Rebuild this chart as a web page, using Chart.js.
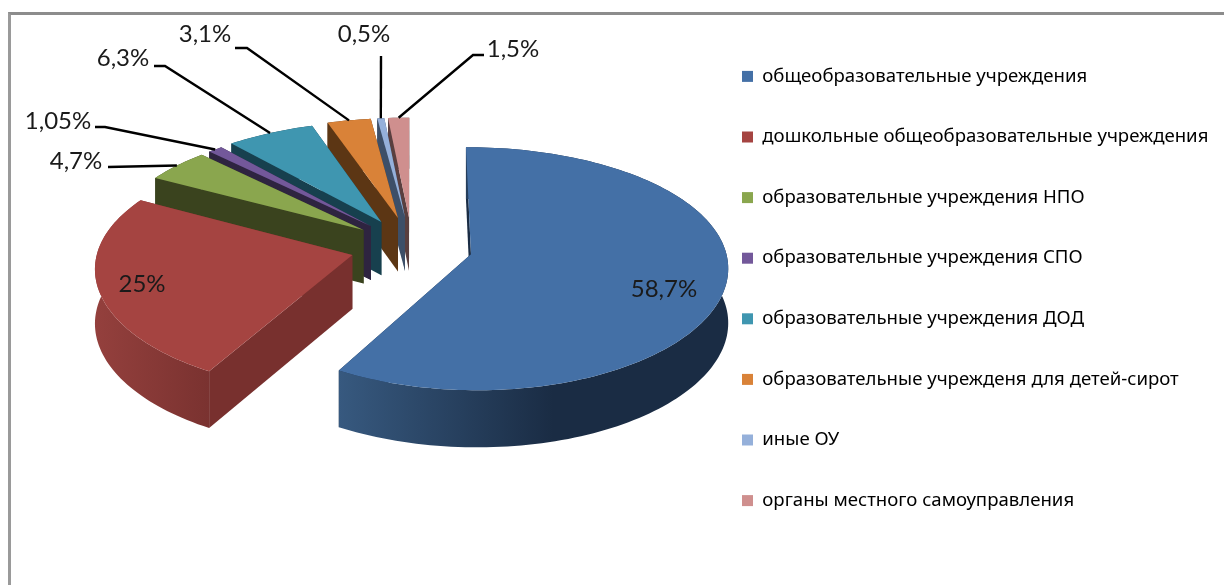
<!DOCTYPE html>
<html>
<head>
<meta charset="utf-8">
<script src="https://cdn.jsdelivr.net/npm/chart.js@4"></script>
<style>
html, body { margin: 0; background: #fff; overflow: hidden; }
#frame { position: absolute; left: 8px; top: 12px; right: 0; bottom: 0; border-top: 3px solid #8c8c8c; border-left: 3px solid #9a9a9a; }
#chart { position: absolute; left: 0; top: 0; }
</style>
</head>
<body>
<div id="frame"></div>
<canvas id="chart" width="1224" height="585"></canvas>
<script>
const categories = [
    "общеобразовательные учреждения",
    "дошкольные общеобразовательные учреждения",
    "образовательные учреждения НПО",
    "образовательные учреждения СПО",
    "образовательные учреждения ДОД",
    "образовательные учрежденя для детей-сирот",
    "иные ОУ",
    "органы местного самоуправления"
];
const shares = [58.7, 25, 4.7, 1.05, 6.3, 3.1, 0.5, 1.5];
const shareLabels = ["58,7%", "25%", "4,7%", "1,05%", "6,3%", "3,1%", "0,5%", "1,5%"];

const topColors = ['#4470a6', '#a54441', '#8aa64e', '#73589a', '#3f96b0', '#d98238', '#95b0da', '#cf8f8e'];
const faceColors = ['#1a2c44', '#78302e', '#3a431e', '#2e2440', '#17404e', '#5c3614', '#3d4f68', '#5a3f3f'];
const wallLeft = ['#37597f', '#94403d', '#3a431e', '#2e2440', '#17404e', '#5c3614', '#3d4f68', '#5a3f3f'];
const wallRight = ['#1a2c44', '#7a3230', '#3a431e', '#2e2440', '#17404e', '#5c3614', '#3d4f68', '#5a3f3f'];
const sliceOffsets = [61, 62, 62, 62, 64, 66, 66, 66];

// label text centre, then the bend of the leader line (null = no leader)
const labelX = [664, 142, 76, 58, 123, 205, 364, 513];
const labelY = [289, 284, 161, 121, 58, 34, 34, 49];
const bendX = [null, null, 108, 95, 154, 235, 381, 484];
const bendY = [null, null, 167, 127, 66, 48, 56, 55];
const bend2X = [null, null, 108, 105, 165, 247, 381, 473];

// projection of the flat pie to the tilted view
const originX = 412, originY = 247, radiusPx = 254, flat = 0.465, persp = 0.001, depth = 54;

function project(el, a, r, z) {
    const k = radiusPx / el.outerRadius;
    const mid = (el.startAngle + el.endAngle) / 2;
    const off = el.options.offset;
    const dx = (Math.cos(mid) * off + Math.cos(a) * r) * k;
    const dy = (Math.sin(mid) * off + Math.sin(a) * r) * k * flat;
    const s = 1 / (1 - persp * dy);
    return [originX + dx * (1 + (s - 1) * 0.8), originY + dy * s + z * (1 + (s - 1) * 0.4)];
}

function polygon(ctx, pts, fill) {
    ctx.beginPath();
    pts.forEach((p, i) => i ? ctx.lineTo(p[0], p[1]) : ctx.moveTo(p[0], p[1]));
    ctx.closePath();
    ctx.fillStyle = fill;
    ctx.fill();
}

function rim(el, z) {
    const pts = [];
    const n = Math.max(4, Math.ceil((el.endAngle - el.startAngle) * 40));
    for (let i = 0; i <= n; i++) {
        pts.push(project(el, el.startAngle + (el.endAngle - el.startAngle) * i / n, el.outerRadius, z));
    }
    return pts;
}

const pie3d = {
    id: 'pie3d',
    afterUpdate(chart) {
        // legend column sits at a fixed spot on the right
        chart.legend.left = 742 - chart.legend.options.labels.padding;
    },
    beforeDatasetDraw(chart) {
        const ctx = chart.ctx;
        const arcs = chart.getDatasetMeta(0).data;
        for (let i = arcs.length - 1; i >= 0; i--) {
            const el = arcs[i];
            const rTop = rim(el, 0), rBot = rim(el, depth);
            const aTop = project(el, 0, 0, 0), aBot = project(el, 0, 0, depth);
            const xs = rTop.map(p => p[0]);
            const g = ctx.createLinearGradient(Math.min(...xs), 0, Math.max(...xs), 0);
            g.addColorStop(0, wallLeft[i]);
            g.addColorStop(i === 0 ? 0.55 : 1, wallRight[i]);
            g.addColorStop(1, wallRight[i]);
            // end face, outer wall, start face, top
            polygon(ctx, [aTop, rTop[rTop.length - 1], rBot[rBot.length - 1], aBot], faceColors[i]);
            if (i === 0) polygon(ctx, [aTop, rTop[0], rBot[0], aBot], faceColors[i]);
            polygon(ctx, rTop.concat(rBot.slice().reverse()), g);
            if (i !== 0) polygon(ctx, [aTop, rTop[0], rBot[0], aBot], faceColors[i]);
            polygon(ctx, [aTop].concat(rTop), topColors[i]);
        }
        return false;
    },
    afterDatasetsDraw(chart) {
        const ctx = chart.ctx;
        const arcs = chart.getDatasetMeta(0).data;
        ctx.save();
        ctx.strokeStyle = '#000';
        ctx.lineWidth = 2.4;
        arcs.forEach((el, i) => {
            if (bendX[i] === null) return;
            const mid = (el.startAngle + el.endAngle) / 2;
            const end = project(el, mid, el.outerRadius, 0);
            ctx.beginPath();
            ctx.moveTo(bendX[i], bendY[i]);
            ctx.lineTo(bend2X[i], bendY[i]);
            ctx.lineTo(end[0], end[1]);
            ctx.stroke();
        });
        ctx.font = '24px Lato';
        ctx.fillStyle = '#1a1a1a';
        ctx.textAlign = 'center';
        ctx.textBaseline = 'middle';
        shareLabels.forEach((t, i) => ctx.fillText(t, labelX[i], labelY[i]));
        ctx.restore();
    }
};

new Chart(document.getElementById('chart'), {
    type: 'pie',
    plugins: [pie3d],
    data: {
        labels: categories,
        datasets: [{
            data: shares,
            backgroundColor: topColors,
            borderWidth: 0,
            offset: sliceOffsets
        }]
    },
    options: {
        responsive: false,
        animation: false,
        layout: { padding: { bottom: 8 } },
        plugins: {
            tooltip: { enabled: false },
            legend: {
                position: 'right',
                labels: {
                    boxWidth: 11,
                    boxHeight: 11,
                    padding: 42,
                    color: '#000',
                    font: { family: 'Noto Sans', size: 18.6 }
                }
            }
        }
    }
});
</script>
</body>
</html>
